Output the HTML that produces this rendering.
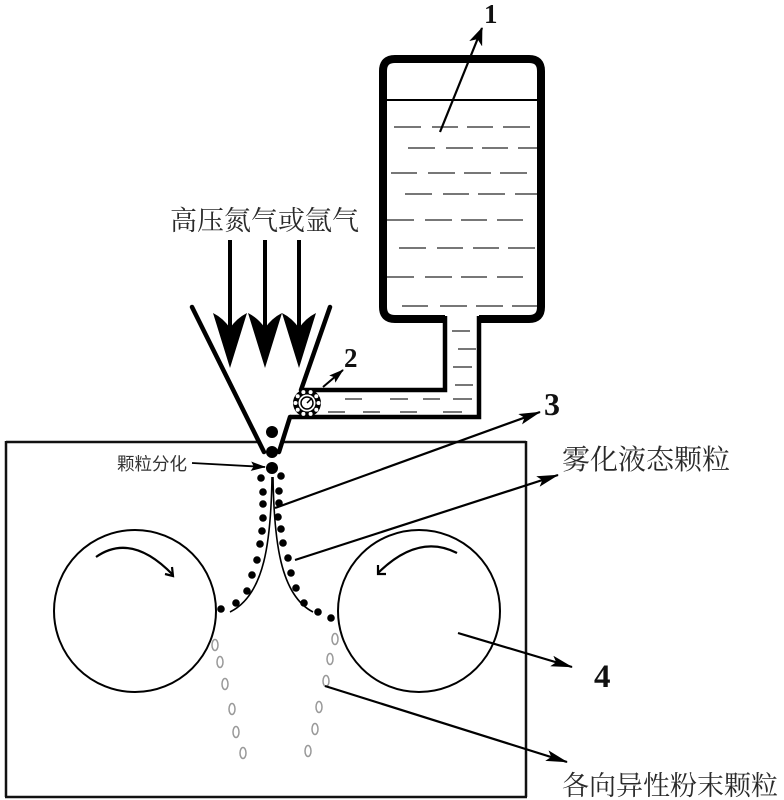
<!DOCTYPE html>
<html><head><meta charset="utf-8">
<style>
html,body{margin:0;padding:0;background:#fff;}
svg{display:block;}
.cjk{font-family:"Liberation Serif","Noto Serif CJK SC",serif;fill:#2a2a2a;}
.num{font-family:"Liberation Serif",serif;font-weight:bold;fill:#111;}
</style></head>
<body>
<svg width="784" height="800" viewBox="0 0 784 800" xmlns="http://www.w3.org/2000/svg">
<defs>
<marker id="ah" viewBox="0 0 24 12" refX="23" refY="6" markerWidth="24" markerHeight="11" markerUnits="userSpaceOnUse" orient="auto">
<path d="M0,0 L24,6 L0,12 L5,6 Z" fill="#000"/>
</marker>
<marker id="ahs" viewBox="0 0 16 10" refX="15" refY="5" markerWidth="15" markerHeight="10" markerUnits="userSpaceOnUse" orient="auto">
<path d="M0,0 L16,5 L0,10 L3,5 Z" fill="#000"/>
</marker>
<marker id="ahm" viewBox="0 0 18 14" refX="17" refY="7" markerWidth="18" markerHeight="14" markerUnits="userSpaceOnUse" orient="auto">
<path d="M0,0 L18,7 L0,14 L5,7 Z" fill="#000"/>
</marker>
</defs>

<!-- Box -->
<g stroke="#111" stroke-width="2.5" fill="none">
<line x1="6" y1="442" x2="259" y2="442"/>
<line x1="283" y1="442" x2="526" y2="442"/>
<line x1="6" y1="441" x2="6" y2="797"/>
<line x1="526" y1="441" x2="526" y2="797"/>
<line x1="5" y1="797" x2="527" y2="797"/>
</g>

<!-- Tank -->
<path d="M445,319 L395,319 Q383,319 383,307 L383,71 Q383,59 395,59 L529,59 Q541,59 541,71 L541,307 Q541,319 529,319 L479,319" stroke="#000" stroke-width="8" fill="none"/>
<path d="M445,316 L445,390 L301,390" stroke="#000" stroke-width="4.5" fill="none"/>
<path d="M479,316 L479,417 L290,417" stroke="#000" stroke-width="4.5" fill="none"/>
<line x1="387" y1="100" x2="537" y2="100" stroke="#000" stroke-width="2"/>

<!-- Tank dashes -->
<g stroke="#777" stroke-width="2">
<path d="M394,127H421M432,127H458M467,127H493M503,127H530"/>
<path d="M408,148H435M446,148H473M482,148H508M518,148H537"/>
<path d="M391,173H417M428,173H455M464,173H491M500,173H527"/>
<path d="M405,194H432M443,194H469M478,194H505M515,194H537"/>
<path d="M387,220H414M425,220H452M461,220H487M497,220H523"/>
<path d="M399,248H426M437,248H463M473,248H499M508,248H535"/>
<path d="M387,277H414M425,277H452M461,277H487M497,277H523"/>
<path d="M402,306H428M440,306H467M476,306H503M512,306H537"/>
<path d="M452,331H470M458,349H476M453,367H472M455,385H473"/>
<path d="M345,399H362M390,399H408M423,399H440M453,399H472"/>
<path d="M328,412H345M363,412H380M400,412H417M443,412H462"/>
</g>

<!-- Funnel -->
<g stroke="#000" stroke-width="4.5" fill="none" stroke-linecap="round">
<line x1="192" y1="307" x2="264" y2="452"/>
<line x1="330" y1="307" x2="301" y2="390"/>
<line x1="290" y1="417" x2="279" y2="452"/>
</g>

<!-- Gas arrows -->
<g stroke="#000" stroke-width="4">
<line x1="230" y1="240" x2="230" y2="330"/>
<line x1="265" y1="240" x2="265" y2="330"/>
<line x1="299" y1="240" x2="299" y2="330"/>
</g>
<g fill="#000">
<path d="M230,368 L213,313 Q223,318 230,328 Q237,318 247,313 Z"/>
<path d="M265,368 L248,313 Q258,318 265,328 Q272,318 282,313 Z"/>
<path d="M299,368 L282,313 Q292,318 299,328 Q306,318 316,313 Z"/>
</g>

<!-- Valve -->
<circle cx="307" cy="403" r="14" fill="#000"/>
<g fill="#fff">
<circle cx="318.5" cy="403" r="2"/><circle cx="316.3" cy="409.8" r="2"/><circle cx="310.6" cy="413.9" r="2"/><circle cx="303.4" cy="413.9" r="2"/><circle cx="297.7" cy="409.8" r="2"/><circle cx="295.5" cy="403" r="2"/><circle cx="297.7" cy="396.2" r="2"/><circle cx="303.4" cy="392.1" r="2"/><circle cx="310.6" cy="392.1" r="2"/><circle cx="316.3" cy="396.2" r="2"/>
</g>
<circle cx="307" cy="403" r="8.5" fill="#fff"/>
<circle cx="307" cy="403" r="6" fill="none" stroke="#000" stroke-width="1.5"/>
<line x1="307" y1="403" x2="312" y2="398" stroke="#000" stroke-width="1.5"/>
<line x1="323" y1="387" x2="343" y2="370" stroke="#000" stroke-width="2" marker-end="url(#ahs)"/>

<!-- Large dots -->
<g fill="#000">
<circle cx="272" cy="432" r="6"/>
<circle cx="272" cy="452" r="6"/>
<circle cx="272" cy="468" r="6"/>
</g>

<!-- Small dots -->
<g fill="#000">
<circle cx="261" cy="478" r="3.8"/><circle cx="263" cy="492" r="3.8"/><circle cx="263" cy="504" r="3.8"/><circle cx="263" cy="518" r="3.8"/><circle cx="262" cy="531" r="3.8"/><circle cx="260" cy="544" r="3.8"/><circle cx="257" cy="560" r="3.8"/><circle cx="252" cy="575" r="3.8"/><circle cx="247" cy="591" r="3.8"/><circle cx="236" cy="603" r="3.8"/><circle cx="221" cy="609" r="3.8"/>
<circle cx="281" cy="476" r="3.8"/><circle cx="279" cy="491" r="3.8"/><circle cx="279" cy="503" r="3.8"/><circle cx="278" cy="517" r="3.8"/><circle cx="281" cy="529" r="3.8"/><circle cx="283" cy="543" r="3.8"/><circle cx="288" cy="558" r="3.8"/><circle cx="291" cy="573" r="3.8"/><circle cx="296" cy="588" r="3.8"/><circle cx="304" cy="603" r="3.8"/><circle cx="318" cy="612" r="3.8"/><circle cx="331" cy="618" r="3.8"/>
</g>

<!-- Stream curves -->
<g stroke="#000" stroke-width="1.6" fill="none">
<path d="M272,477 C271,540 265,595 230,612"/>
<path d="M273,477 C274,540 280,595 313,612"/>
</g>

<!-- Rollers -->
<circle cx="135" cy="611" r="81" fill="none" stroke="#000" stroke-width="2"/>
<circle cx="419" cy="611" r="81" fill="none" stroke="#000" stroke-width="2"/>
<path d="M96,557 Q131.5,532 173,575" fill="none" stroke="#000" stroke-width="2.2"/>
<path d="M165,574 L173,576 L172,567" fill="none" stroke="#000" stroke-width="2.2"/>
<path d="M457,553 Q418.5,533 378,573" fill="none" stroke="#000" stroke-width="2.2"/>
<path d="M378,565 L378,574 L386,574" fill="none" stroke="#000" stroke-width="2.2"/>

<!-- Powder ovals -->
<g fill="none" stroke="#999" stroke-width="1.5">
<ellipse cx="215" cy="645" rx="3" ry="5.5"/><ellipse cx="220" cy="662" rx="3" ry="5.5"/><ellipse cx="225" cy="684" rx="3" ry="5.5"/><ellipse cx="232" cy="709" rx="3" ry="5.5"/><ellipse cx="236" cy="732" rx="3" ry="5.5"/><ellipse cx="243" cy="753" rx="3" ry="5.5"/>
<ellipse cx="335" cy="639" rx="3" ry="5.5"/><ellipse cx="330" cy="659" rx="3" ry="5.5"/><ellipse cx="326" cy="681" rx="3" ry="5.5"/><ellipse cx="319" cy="707" rx="3" ry="5.5"/><ellipse cx="315" cy="729" rx="3" ry="5.5"/><ellipse cx="308" cy="751" rx="3" ry="5.5"/>
</g>

<!-- Leader arrows -->
<g stroke="#000" stroke-width="2.2" fill="none">
<line x1="440" y1="132" x2="482" y2="28" marker-end="url(#ahm)"/>
<line x1="275" y1="508" x2="540" y2="412" marker-end="url(#ah)"/>
<line x1="295" y1="560" x2="558" y2="475" marker-end="url(#ah)"/>
<line x1="458" y1="633" x2="572" y2="667" marker-end="url(#ah)"/>
<line x1="325" y1="686" x2="567" y2="762" marker-end="url(#ah)"/>
<line x1="192" y1="463" x2="265" y2="467" marker-end="url(#ahs)" stroke-width="1.8"/>
</g>

<!-- Labels -->
<text class="cjk" x="170" y="230" font-size="27">高压氮气或氩气</text>
<text class="cjk" x="562" y="469" font-size="28">雾化液态颗粒</text>
<text class="cjk" x="562" y="795" font-size="27">各向异性粉末颗粒</text>
<text x="117" y="470" font-size="17.5" font-family="'Liberation Sans','Noto Sans CJK SC',sans-serif" fill="#333">颗粒分化</text>
<text class="num" x="484" y="23" font-size="27">1</text>
<text class="num" x="344" y="367" font-size="27">2</text>
<text class="num" x="544" y="415" font-size="32">3</text>
<text class="num" x="594" y="687" font-size="33">4</text>
</svg>
</body></html>
